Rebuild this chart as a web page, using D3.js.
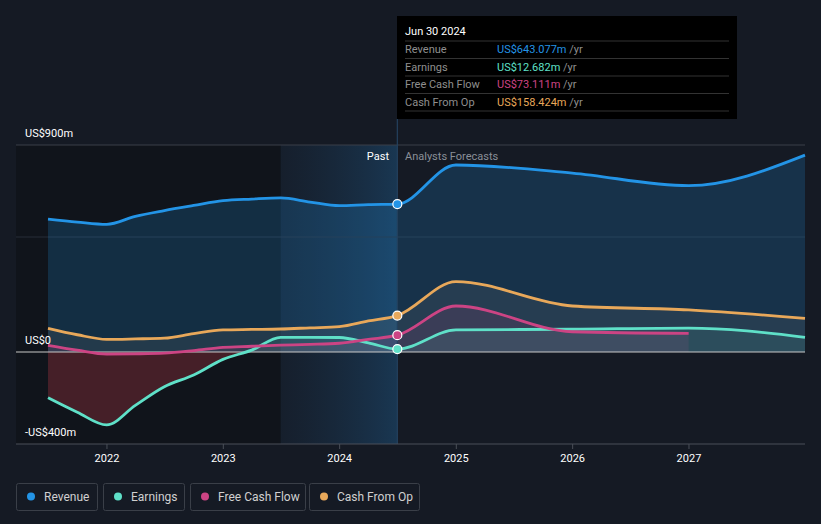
<!DOCTYPE html>
<html><head><meta charset="utf-8">
<script src="https://cdn.jsdelivr.net/npm/d3@7"></script>
<style>
body{margin:0;background:#151a24;font-family:Roboto,"Noto Sans",sans-serif;}
svg{display:block}
</style></head><body>
<svg id="c" width="821" height="524"></svg>
<script>
const pastDates = ["2021-06-30","2021-09-30","2021-12-31","2022-03-31","2022-06-30","2022-09-30","2022-12-31","2023-03-31","2023-06-30","2023-09-30","2023-12-31","2024-03-31","2024-06-30"];
const revenuePast = [578,565,555,590,615,637,658,665,670,652,636,641,643.077];
const earningsPast = [-199,-262,-317,-232,-151,-100,-32,8,64,64,63,40,12.682];
const fcfPast = [29,8,-9,-8,-5,6,20,25,30,33,38,55,73.111];
const cfoPast = [103,75,55,57,60,80,96,98,100,105,110,135,158.424];

const fcDates = ["2024-06-30","2024-12-31","2025-12-31","2026-12-31","2027-12-31"];
const revenueFc = [643.077,813,778,723,856];
const earningsFc = [12.682,96,99,104,64];
const fcfFc = [73.111,200,88,81];
const cfoFc = [158.424,306,200,183,146];

const yTicks = [-400,0,500,900];
const yLabels = {"900":"US$900m","0":"US$0","-400":"-US$400m"};
const xYears = [2022,2023,2024,2025,2026,2027];
const seriesNames = ["Revenue","Earnings","Free Cash Flow","Cash From Op"];
const colors = ["#2394e6","#5fe0c8","#cc4484","#e8a85a"];

const parse = d3.timeParse("%Y-%m-%d");
const svg = d3.select("#c");
const x = d3.scaleTime().domain([parse("2021-06-30"), parse("2027-12-31")]).range([48,805]);
const y = d3.scaleLinear().domain([-400,900]).range([444,145]);
const nowD = parse("2024-06-30");
const X0 = 16, X1 = 805;

const defs = svg.append("defs");
const g1 = defs.append("linearGradient").attr("id","band").attr("x1","0").attr("x2","1");
g1.append("stop").attr("offset","0").attr("stop-color","#1b3c5c").attr("stop-opacity",0.15);
g1.append("stop").attr("offset","1").attr("stop-color","#1e5a8a").attr("stop-opacity",0.45);

svg.append("rect").attr("x",X0).attr("y",145).attr("width",x(parse("2023-06-30"))-X0).attr("height",444-145).attr("fill","#10141b");
svg.append("rect").attr("x",x(parse("2023-06-30"))).attr("y",145).attr("width",x(nowD)-x(parse("2023-06-30"))).attr("height",444-145).attr("fill","url(#band)");

[900,500].forEach(v=>{
  svg.append("line").attr("x1",X0).attr("x2",X1).attr("y1",y(v)).attr("y2",y(v)).attr("stroke",v===900?"#3a3f48":"#262d38").attr("stroke-width",1);
});

function mk(dates, vals){ return vals.map((v,i)=>({d:parse(dates[i]),v})); }
const past = [mk(pastDates,revenuePast),mk(pastDates,earningsPast),mk(pastDates,fcfPast),mk(pastDates,cfoPast)];
const fc = [mk(fcDates,revenueFc),mk(fcDates,earningsFc),mk(fcDates.slice(0,4),fcfFc),mk(fcDates,cfoFc)];

const curve = d3.curveMonotoneX;
const area = d3.area().x(d=>x(d.d)).y0(y(0)).y1(d=>y(d.v)).curve(curve);
const line = d3.line().x(d=>x(d.d)).y(d=>y(d.v)).curve(curve);

const fillOp = [0.2,0.12,0.12,0.1];
[0,3,2,1].forEach(i=>{
  const all = past[i].concat(fc[i].slice(1));
  if(i===1){
    defs.append("clipPath").attr("id","clipNeg").append("rect").attr("x",0).attr("y",y(0)).attr("width",821).attr("height",200);
    defs.append("clipPath").attr("id","clipPos").append("rect").attr("x",0).attr("y",0).attr("width",821).attr("height",y(0));
    svg.append("path").attr("d",area(all)).attr("fill","#7a2a36").attr("opacity",0.5).attr("clip-path","url(#clipNeg)");
    svg.append("path").attr("d",area(all)).attr("fill",colors[1]).attr("opacity",0.1).attr("clip-path","url(#clipPos)");
  } else {
    svg.append("path").attr("d",area(all)).attr("fill",i===3?"#8a8a80":colors[i]).attr("opacity",i===3?0.14:fillOp[i]);
  }
});

svg.append("line").attr("x1",X0).attr("x2",X1).attr("y1",y(0)).attr("y2",y(0)).attr("stroke","#c8c8c8").attr("stroke-width",1.2);
svg.append("line").attr("x1",x(nowD)).attr("x2",x(nowD)).attr("y1",119).attr("y2",444).attr("stroke","#24415e").attr("stroke-width",1.2);

[1,2,3,0].forEach(i=>{
  const all = past[i].concat(fc[i].slice(1));
  svg.append("path").attr("d",line(all)).attr("fill","none").attr("stroke",colors[i]).attr("stroke-width",2.8);
});

[0,3,2,1].forEach(i=>{
  const p = past[i][past[i].length-1];
  svg.append("circle").attr("cx",x(p.d)).attr("cy",y(p.v)).attr("r",4.5).attr("fill",colors[i]).attr("stroke","#fff").attr("stroke-width",1.2);
});

svg.append("line").attr("x1",X0).attr("x2",X1).attr("y1",444).attr("y2",444).attr("stroke","#4a4f58").attr("stroke-width",1);
xYears.forEach(yr=>{
  const xx = x(new Date(yr,0,1));
  svg.append("line").attr("x1",xx).attr("x2",xx).attr("y1",444).attr("y2",449).attr("stroke","#4a4f58");
  svg.append("text").attr("x",xx).attr("y",462).attr("text-anchor","middle").attr("fill","#fff").attr("font-size",11).text(yr);
});

yTicks.filter(v=>yLabels[v]).forEach(v=>{
  svg.append("text").attr("x",25).attr("y",y(v)-8).attr("fill","#fff").attr("font-size",11).text(yLabels[v]);
});

svg.append("text").attr("x",389).attr("y",160).attr("text-anchor","end").attr("fill","#fff").attr("font-size",11).text("Past");
svg.append("text").attr("x",405).attr("y",160).attr("fill","#8a8f98").attr("font-size",11).text("Analysts Forecasts");

const tt = svg.append("g");
tt.append("rect").attr("x",397).attr("y",16).attr("width",340).attr("height",103).attr("fill","#000");
tt.append("text").attr("x",405).attr("y",35).attr("fill","#fff").attr("font-size",11).text("Jun 30 2024");
const ttVals = [revenuePast[12],earningsPast[12],fcfPast[12],cfoPast[12]];
const ttLabels = ["Revenue","Earnings","Free Cash Flow","Cash From Op"];
ttLabels.forEach((l,i)=>{
  const yy = 53 + i*17.5;
  tt.append("line").attr("x1",405).attr("x2",729).attr("y1",yy-12).attr("y2",yy-12).attr("stroke","#333");
  tt.append("text").attr("x",405).attr("y",yy).attr("fill","#8f8f8f").attr("font-size",11).text(l);
  const t = tt.append("text").attr("x",497).attr("y",yy).attr("font-size",11);
  t.append("tspan").attr("fill",colors[i]).text("US$"+d3.format(".3f")(ttVals[i])+"m");
  t.append("tspan").attr("fill","#8f8f8f").text(" /yr");
});
tt.append("line").attr("x1",405).attr("x2",729).attr("y1",111).attr("y2",111).attr("stroke","#333");

const legX = [16,103,190,309], legW = [81,81,115,110];
seriesNames.forEach((n,i)=>{
  const g = svg.append("g");
  g.append("rect").attr("x",legX[i]+0.5).attr("y",483.5).attr("width",legW[i]).attr("height",27).attr("rx",2).attr("fill","none").attr("stroke","#3a3f48");
  g.append("circle").attr("cx",legX[i]+15).attr("cy",496.5).attr("r",4).attr("fill",colors[i]);
  g.append("text").attr("x",legX[i]+28).attr("y",501).attr("fill","#d0d0d0").attr("font-size",12).text(n);
});
</script></body></html>
